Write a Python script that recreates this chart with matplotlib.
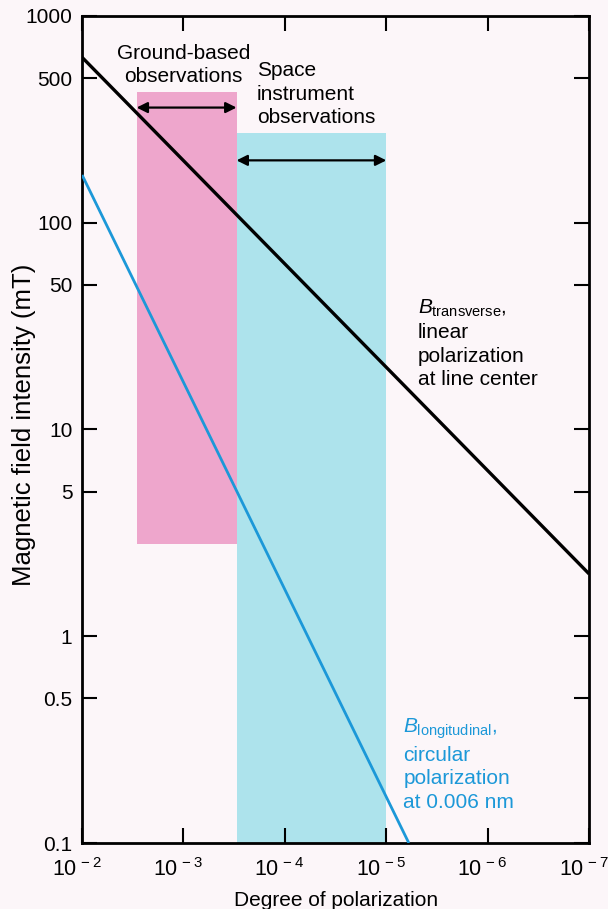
import matplotlib
matplotlib.use("Agg")
import matplotlib.pyplot as plt
from matplotlib.transforms import ScaledTranslation

plt.rcParams['font.family'] = ['Liberation Sans', 'DejaVu Sans']
plt.rcParams['mathtext.fontset'] = 'custom'
plt.rcParams['mathtext.rm'] = 'Liberation Sans'
plt.rcParams['mathtext.it'] = 'Liberation Sans:italic'
plt.rcParams['mathtext.bf'] = 'Liberation Sans:bold'

# ---- data ----
p_transverse = [1e-2, 1e-7]
b_transverse = [630, 2.0]
p_longitudinal = [1e-2, 6e-6]
b_longitudinal = [170, 0.1]

ground_range = [2.9e-3, 3.0e-4]   # degree of polarization
ground_b = [2.8, 430]              # mT
space_range = [3.0e-4, 1.0e-5]
space_b = [0.1, 272]
ground_arrow_b = 360
space_arrow_b = 200

x_ticks = [1e-2, 1e-3, 1e-4, 1e-5, 1e-6, 1e-7]
x_labels = [r'$10^{\,-2}$', r'$10^{\,-3}$', r'$10^{\,-4}$', r'$10^{\,-5}$', r'$10^{\,-6}$', r'$10^{\,-7}$']
y_ticks = [0.1, 0.5, 1, 5, 10, 50, 100, 500, 1000]
y_labels = ['0.1', '0.5', '1', '5', '10', '50', '100', '500', '1000']

bg = '#fcf6f9'
pink = '#eea6cc'
cyan = '#ade3ec'
blue = '#1c98d8'

fig = plt.figure(figsize=(6.08, 9.09), dpi=100, facecolor=bg)
ax = fig.add_axes([0.135, 0.0726, 0.834, 0.91])
ax.set_facecolor(bg)
ax.set_xscale('log')
ax.set_yscale('log')
ax.set_xlim(1e-2, 1e-7)
ax.set_ylim(0.1, 1000)

# shaded regions
ax.fill_between(ground_range, ground_b[0], ground_b[1], color=pink, lw=0, zorder=1)
ax.fill_between(space_range, space_b[0], space_b[1], color=cyan, lw=0, zorder=1)

# lines
ax.plot(p_transverse, b_transverse, color='black', lw=2.4, zorder=3, solid_capstyle='butt')
ax.plot(p_longitudinal, b_longitudinal, color=blue, lw=2.0, zorder=3, solid_capstyle='butt')

# arrows
arrow_kw = dict(arrowstyle='<|-|>', color='black', lw=1.6, mutation_scale=16,
                shrinkA=0, shrinkB=0)
ax.annotate('', xy=(ground_range[0], ground_arrow_b), xytext=(ground_range[1], ground_arrow_b),
            arrowprops=arrow_kw, zorder=4)
ax.annotate('', xy=(space_range[0], space_arrow_b), xytext=(space_range[1], space_arrow_b),
            arrowprops=arrow_kw, zorder=4)

fs = 15
ls = 1.3
ax.text(1.0e-3, 578, 'Ground-based\nobservations', ha='center', va='center',
        fontsize=fs, linespacing=ls, zorder=5)
ax.text(1.9e-4, 418, 'Space\ninstrument\nobservations', ha='left', va='center',
        fontsize=fs, linespacing=ls, zorder=5)
ax.text(4.9e-6, 26, r'$B_{\mathrm{transverse}}$,' + '\nlinear\npolarization\nat line center',
        ha='left', va='center', fontsize=fs, linespacing=ls, zorder=5)
ax.text(6.8e-6, 0.24, r'$B_{\mathrm{longitudinal}}$,' + '\ncircular\npolarization\nat 0.006 nm',
        ha='left', va='center', fontsize=fs, linespacing=ls, color=blue, zorder=5)

# ticks
ax.set_xticks(x_ticks)
ax.set_xticklabels(x_labels)
ax.set_yticks(y_ticks)
ax.set_yticklabels(y_labels)
ax.minorticks_off()
ax.tick_params(which='major', direction='in', length=11, width=1.5,
               top=True, right=True, labelsize=fs, pad=7, color='black')
ax.tick_params(axis='x', labelsize=15.5, pad=11)
for s in ax.spines.values():
    s.set_linewidth(2.0)
offset = ScaledTranslation(-4 / 72, 0, fig.dpi_scale_trans)
for lab in ax.get_xticklabels():
    lab.set_transform(lab.get_transform() + offset)

ax.set_xlabel('Degree of polarization', fontsize=fs, labelpad=7)
ax.set_ylabel('Magnetic field intensity (mT)', fontsize=18.5)
ax.yaxis.set_label_coords(-0.09, 0.505)

fig.savefig('out.png', dpi=100, facecolor=bg)
